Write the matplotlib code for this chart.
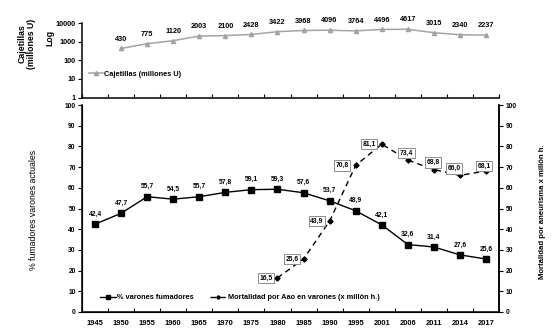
import matplotlib
matplotlib.use("Agg")
import matplotlib.pyplot as plt
import numpy as np

plt.rcParams['font.family'] = ['Liberation Sans', 'DejaVu Sans']

years = ["1945", "1950", "1955", "1960", "1965", "1970", "1975", "1980", "1985",
         "1990", "1995", "2001", "2006", "2011", "2014", "2017"]
packs_years = years[1:]
packs = [430, 775, 1120, 2003, 2100, 2428, 3422, 3968, 4096, 3764, 4496, 4617, 3015, 2340, 2237]
smokers = [42.4, 47.7, 55.7, 54.5, 55.7, 57.8, 59.1, 59.3, 57.6, 53.7, 48.9, 42.1, 32.6, 31.4, 27.6, 25.6]
mort_years = years[7:]
mortality = [16.5, 25.6, 43.9, 70.8, 81.1, 73.4, 68.8, 66.0, 68.1]

fig = plt.figure(figsize=(5.6, 3.32), dpi=100)
W, H = 560, 332
def rect(x0, y0, x1, y1):
    return [x0 / W, 1 - y1 / H, (x1 - x0) / W, (y1 - y0) / H]

xpos = {y: i for i, y in enumerate(years)}
xlim = (-0.5, len(years) - 0.5)
bounds = np.arange(len(years) + 1) - 0.5
SP = 1.1

# ---------- top axes ----------
axt = fig.add_axes(rect(82, 23, 499, 97.5))
px = [xpos[y] for y in packs_years]
axt.plot(px, packs, color='#a3a3a3', lw=1.1, marker='^', ms=3, label='Cajetillas (millones U)')
axt.set_yscale('log')
axt.set_ylim(1, 10000)
axt.set_xlim(*xlim)
axt.set_yticks([1, 10, 100, 1000, 10000])
axt.set_yticklabels(['1', '10', '100', '1000', '10000'])
axt.minorticks_off()
axt.set_xticks(bounds)
axt.set_xticklabels([])
axt.tick_params(axis='x', direction='in', length=3, width=0.8)
axt.tick_params(axis='y', direction='out', length=3, width=0.8, labelsize=5.2, pad=1.5)
for lab in axt.get_yticklabels():
    lab.set_fontweight('bold')
for s in ['top', 'right']:
    axt.spines[s].set_visible(False)
for s in ['left', 'bottom']:
    axt.spines[s].set_linewidth(SP)
for x, v in zip(px, packs):
    axt.annotate(str(v), (x, v), xytext=(0, 6.8), textcoords='offset points',
                 ha='center', va='center', fontsize=5.3, fontweight='bold')
axt.legend(loc='center left', bbox_to_anchor=(0.0, 0.315), frameon=False,
           prop={'size': 5.3, 'weight': 'bold'}, handlelength=2.0, handletextpad=0.15,
           borderaxespad=0.5)
fig.text(22 / W, 1 - 44 / H, 'Cajetillas', rotation=90, ha='center', va='center',
         fontsize=6.3, fontweight='bold')
fig.text(32 / W, 1 - 44 / H, '(millones U)', rotation=90, ha='center', va='center',
         fontsize=6.3, fontweight='bold')
fig.text(50 / W, 1 - 38 / H, 'Log', rotation=90, ha='center', va='center',
         fontsize=6.3, fontweight='bold')

# ---------- bottom axes ----------
axb = fig.add_axes(rect(82, 105, 499, 312))
sx = [xpos[y] for y in years]
l1, = axb.plot(sx, smokers, color='black', lw=1.0, marker='s', ms=4.2, label='% varones fumadores')
axb.set_xlim(*xlim)
axb.set_ylim(0, 100)
axb.set_yticks(np.arange(0, 101, 10))
axb.set_xticks(sx)
axb.set_xticklabels(years)
axb.set_xticks(bounds, minor=True)
axb.tick_params(axis='x', which='major', length=0, labelsize=5.4, pad=6)
axb.tick_params(axis='x', which='minor', direction='in', length=3, width=0.8)
axb.tick_params(axis='y', direction='out', length=3, width=0.8, labelsize=4.8, pad=1.5)
for lab in axb.get_xticklabels() + axb.get_yticklabels():
    lab.set_fontweight('bold')
axb.spines['top'].set_visible(False)
for s in ['left', 'bottom', 'right']:
    axb.spines[s].set_linewidth(SP)
for x, v in zip(sx, smokers):
    axb.annotate(f"{v:.1f}".replace('.', ','), (x, v), xytext=(0, 7.2), textcoords='offset points',
                 ha='center', va='center', fontsize=4.9, fontweight='bold')

axr = axb.twinx()
mx = [xpos[y] for y in mort_years]
l2, = axr.plot(mx, mortality, color='black', lw=1.0, ls=(0, (4, 3)), marker='D', ms=2.6,
               label='Mortalidad por Aao en varones (x millón h.)')
axr.set_ylim(0, 100)
axr.set_yticks(np.arange(0, 101, 10))
axr.tick_params(axis='y', direction='out', length=3, width=0.8, labelsize=4.8, pad=2)
for lab in axr.get_yticklabels():
    lab.set_fontweight('bold')
axr.spines['top'].set_visible(False)
axr.spines['right'].set_linewidth(SP)
# label offsets in pixels (dx of box anchor, dy), converted to points
offs_px = [(-5, 0), (-5, 0), (-6, 0), (-7, 0), (-6, 0), (-1, 7), (-1, 7), (-6, 7), (-2, 5)]
aligns = ['right', 'right', 'right', 'right', 'right', 'center', 'center', 'center', 'center']
for x, v, (dx, dy), ha in zip(mx, mortality, offs_px, aligns):
    axr.annotate(f"{v:.1f}".replace('.', ','), (x, v), xytext=(dx * 0.72, dy * 0.72),
                 textcoords='offset points', ha=ha, va='center', fontsize=4.9, fontweight='bold',
                 bbox=dict(boxstyle='square,pad=0.25', fc='white', ec='#8c8c8c', lw=0.7))

axb.legend([l1, l2], [l1.get_label(), l2.get_label()], loc='center left', ncol=2,
           bbox_to_anchor=(0.035, 0.07), frameon=False, prop={'size': 5.3, 'weight': 'bold'},
           handlelength=2.2, handletextpad=0.15, columnspacing=2.3, markerscale=0.7,
           borderaxespad=0)

fig.text(34 / W, 1 - 210 / H, '% fumadores varones actuales', rotation=90, ha='center',
         va='center', fontsize=6.3)
fig.text(542 / W, 1 - 212 / H, 'Mortalidad por aneurisma x millón h.', rotation=90,
         ha='center', va='center', fontsize=5.6, fontweight='bold')

fig.savefig('out.png', dpi=100)
